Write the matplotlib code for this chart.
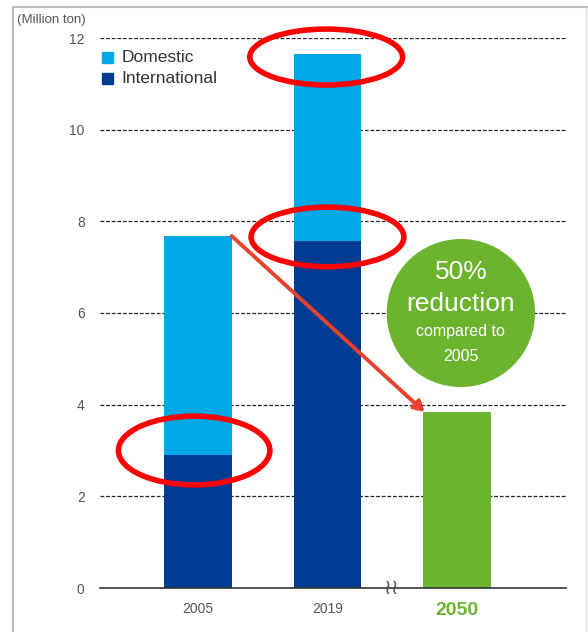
import numpy as np
import matplotlib.pyplot as plt
from matplotlib.patches import Ellipse, Rectangle
from matplotlib.lines import Line2D

plt.rcParams['font.family'] = ['Liberation Sans', 'DejaVu Sans']

years = ['2005', '2019', '2050']
international = [2.90, 7.57, 0]
domestic = [4.78, 4.08, 0]
target = [0, 0, 3.84]
yticks = [0, 2, 4, 6, 8, 10, 12]

c_dom = '#00a8e8'
c_int = '#003b93'
c_green = '#6cb42e'
c_red = '#ff0000'

fig = plt.figure(figsize=(5.88, 6.32), dpi=100)
ax = fig.add_axes([100/588, 44/632, 466/588, 550/632])

x = np.arange(len(years))
w = 0.525
ax.bar(x[:2], international[:2], w, color=c_int, zorder=2)
ax.bar(x[:2], domestic[:2], w, bottom=international[:2], color=c_dom, zorder=2)
ax.bar(x[2], target[2], w, color=c_green, zorder=2)

ax.set_xlim(-0.757, 2.842)
ax.set_ylim(0, 12)
for s in ['top', 'right', 'left']:
    ax.spines[s].set_visible(False)
ax.spines['bottom'].set_color('#333333')
ax.spines['bottom'].set_linewidth(1.2)
ax.set_yticks(yticks)
ax.set_yticklabels([str(v) for v in yticks], color='#555555', fontsize=10)
ax.tick_params(axis='y', length=0, pad=11)
ax.tick_params(axis='x', length=0, pad=10)
ax.set_xticks(x)
ax.set_xticklabels(years, fontsize=10, color='#555555')
lab = ax.get_xticklabels()[2]
lab.set_color(c_green)
lab.set_fontsize(14)
lab.set_fontweight('bold')
for v in yticks[1:]:
    ax.axhline(v, color='#222222', lw=0.9, ls=(0, (3, 1.5)), zorder=1)

# break mark between 2019 and 2050
ax.text(1.5, -0.02, '\u2240\u2240', ha='center', va='center', fontsize=15,
        color='#555555', clip_on=False, zorder=3)

# legend
ax.add_patch(Rectangle((-0.745, 11.455), 0.085, 0.24, color=c_dom, clip_on=False))
ax.add_patch(Rectangle((-0.745, 11.0), 0.085, 0.24, color=c_int, clip_on=False))
ax.text(-0.59, 11.57, 'Domestic', fontsize=12.5, color='#333333', va='center')
ax.text(-0.59, 11.11, 'International', fontsize=12.5, color='#333333', va='center')

# arrow from 2005 total down to 2050 target
ax.annotate('', xy=(1.75, 3.84), xytext=(0.26, 7.68),
            arrowprops=dict(arrowstyle='-|>,head_length=0.6,head_width=0.35',
                            color='#e8412c', lw=2.8, shrinkA=0, shrinkB=0))

# green circle
ax.add_patch(Ellipse((2.03, 6.0), 1.135, 3.2, color=c_green, zorder=3))
ax.text(2.03, 6.9, '50%', fontsize=19, color='white', ha='center', va='center', zorder=4)
ax.text(2.03, 6.2, 'reduction', fontsize=19, color='white', ha='center', va='center', zorder=4)
ax.text(2.03, 5.6, 'compared to', fontsize=11.5, color='white', ha='center', va='center', zorder=4)
ax.text(2.03, 5.06, '2005', fontsize=11.5, color='white', ha='center', va='center', zorder=4)

# red highlight ellipses
for cx, cy, ew, eh in [(0.99, 11.585, 1.18, 1.22), (1.0, 7.66, 1.18, 1.3), (-0.03, 3.0, 1.17, 1.5)]:
    ax.add_patch(Ellipse((cx, cy), ew, eh, fill=False, edgecolor=c_red, lw=4,
                         clip_on=False, zorder=5))

fig.text(17/588, 1 - 20/632, '(Million ton)', fontsize=9.5, color='#555555', va='center')

# frame around the figure
fig.add_artist(Line2D([13/588, 13/588], [0, 1 - 7/632], color='#bbbbbb', lw=1.5))
fig.add_artist(Line2D([13/588, 587/588], [1 - 7/632, 1 - 7/632], color='#bbbbbb', lw=1.5))
fig.add_artist(Line2D([586/588, 586/588], [0, 1 - 7/632], color='#dddddd', lw=1))

fig.savefig('out.png', dpi=100, facecolor='white')
